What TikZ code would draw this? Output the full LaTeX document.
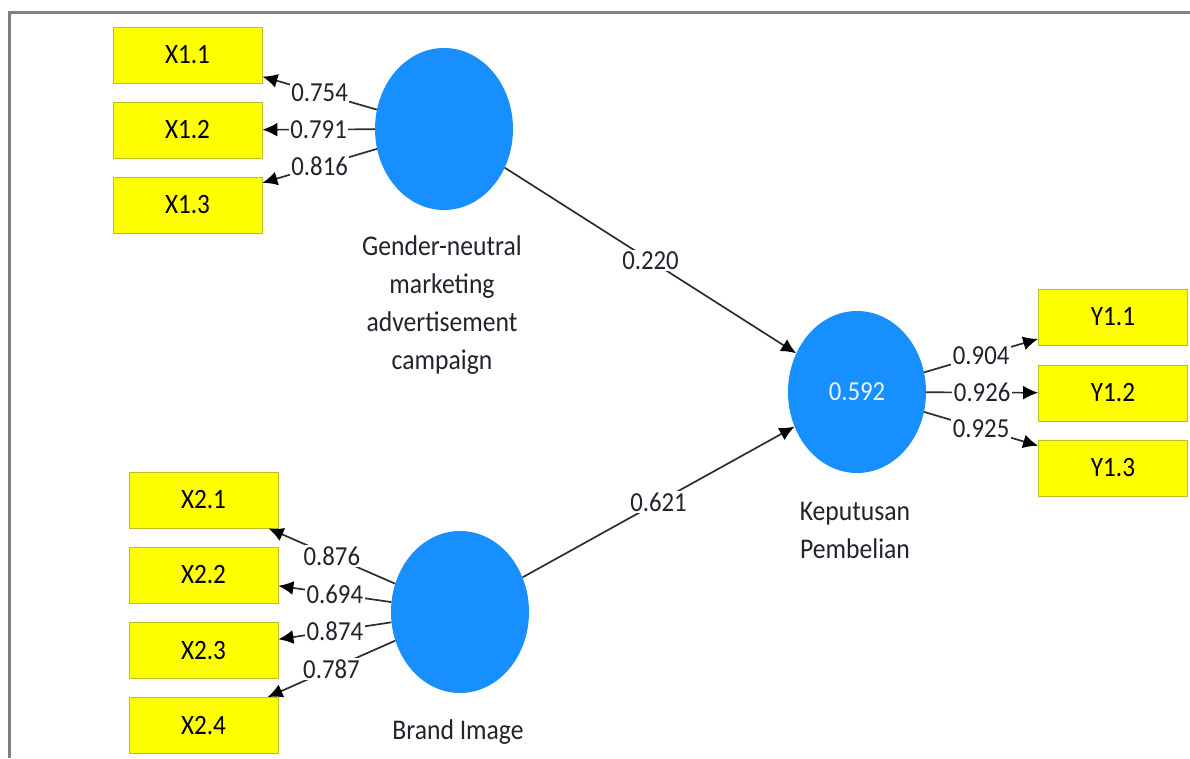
\documentclass[tikz,border=0pt]{standalone}
\usepackage{fontspec}
\setmainfont{Carlito}[FakeStretch=0.9]
\usetikzlibrary{shapes.geometric,arrows.meta}
\definecolor{latblue}{RGB}{24,143,255}
\definecolor{indyel}{RGB}{255,255,0}
\definecolor{indbord}{RGB}{190,190,40}
\definecolor{lncol}{RGB}{45,45,45}
\definecolor{txcol}{RGB}{35,35,45}
\definecolor{framecol}{RGB}{128,128,128}
\begin{document}
\begin{tikzpicture}[x=1pt,y=-1pt,
  indbox/.style={draw=indbord,line width=0.8pt,fill=indyel,minimum width=149pt,minimum height=56pt,inner sep=0pt,font=\fontsize{28}{32}\selectfont,text=black},
  latent/.style={ellipse,fill=latblue,minimum width=138pt,minimum height=162pt,inner sep=0pt},
  conn/.style={draw=lncol,line width=1.7pt,-{Latex[length=15pt,width=14pt,color=black]}},
  wlab/.style={midway,fill=white,inner sep=1.5pt,text=txcol,font=\fontsize{27.5}{32}\selectfont},
  lvlab/.style={text=txcol,align=center,font=\fontsize{28.5}{38}\selectfont}]
\useasboundingbox (0,0) rectangle (1190,758);
\fill[white] (0,0) rectangle (1190,758);
% frame
\draw[framecol,line width=3pt] (9,758) -- (9,12) -- (1190,12);
% latent variables
\node[latent] (gn) at (444,129) {};
\node[latent] (bi) at (460,612) {};
\node[latent] (kp) at (857,392) {};
\node[text=white!92!latblue,font=\fontsize{27.5}{32}\selectfont] (kpv) at (kp.center) {0.592};
\node[lvlab] (gnl) at (442,305) {Gender-neutral\\marketing\\advertisement\\campaign};
\node[lvlab] (bil) at (458,732) {Brand Image};
\node[lvlab] (kpl) at (855,530) {Keputusan\\Pembelian};
% indicators
\node[indbox] (x11) at (187.5,55) {X1.1};
\node[indbox] (x12) at (187.5,130) {X1.2};
\node[indbox] (x13) at (187.5,205) {X1.3};
\node[indbox] (x21) at (203.5,500) {X2.1};
\node[indbox] (x22) at (203.5,575) {X2.2};
\node[indbox] (x23) at (203.5,650.5) {X2.3};
\node[indbox] (x24) at (203.5,725.5) {X2.4};
\node[indbox] (y11) at (1113,317) {Y1.1};
\node[indbox] (y12) at (1113,393) {Y1.2};
\node[indbox] (y13) at (1113,468) {Y1.3};
% outer loadings
\draw[conn] (gn) -- node[wlab] {0.754} (x11);
\draw[conn] (gn) -- node[wlab] {0.791} (x12);
\draw[conn] (gn) -- node[wlab] {0.816} (x13);
\draw[conn] (bi) -- node[wlab] {0.876} (x21);
\draw[conn] (bi) -- node[wlab] {0.694} (x22);
\draw[conn] (bi) -- node[wlab] {0.874} (x23);
\draw[conn] (bi) -- node[wlab] {0.787} (x24);
\draw[conn] (kp) -- node[wlab] {0.904} (y11);
\draw[conn] (kp) -- node[wlab] {0.926} (y12);
\draw[conn] (kp) -- node[wlab] {0.925} (y13);
% path coefficients
\draw[conn] (gn) -- node[wlab] {0.220} (kp);
\draw[conn] (bi) -- node[wlab] {0.621} (kp);
\end{tikzpicture}
\end{document}
